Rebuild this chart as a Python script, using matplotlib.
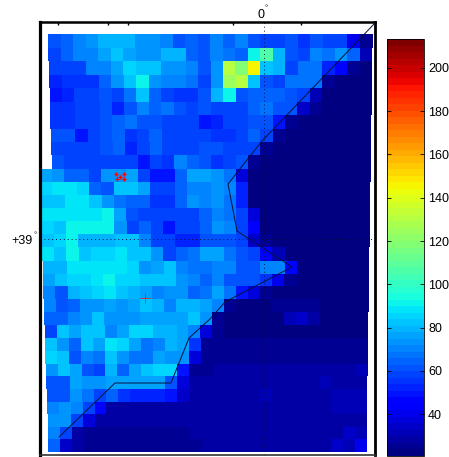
import matplotlib
matplotlib.use("Agg")
import matplotlib.pyplot as plt
import numpy as np

plt.rcParams['font.family'] = ['Liberation Sans', 'DejaVu Sans']

n = np.nan
# one row per latitude band, north to south; first column only exists south of row 9
cells = [
    [n, 62,65,69,72,78,80,80,73,73,69,62,65,62, 69,64,69,62,57,59,61,55,61,57,59,40,24],
    [n, 59,64,70,70,75,83,75,72,72,78,78,65,62, 70,67,64,91,107,78,61,59,69,67,72,65,32],
    [n, 57,59,59,69,70,75,84,81,81,73,73,69,61, 72,130,120,147,83,79,59,67,67,52,46,24,22],
    [n, 52,54,54,54,65,73,83,91,73,69,69,67,59, 73,125,130,83,62,59,67,67,67,24,23,22,22],
    [n, 48,52,57,57,62,57,67,81,65,59,54,54,62, 80,90,62,65,65,64,61,57,32,22,22,22,22],
    [n, 54,54,57,57,61,52,62,70,64,67,62,57,62, 57,57,57,64,67,62,62,35,24,22,22,22,22],
    [n, 54,54,57,57,61,65,67,62,62,57,57,57,49, 52,57,57,61,61,50,24,22,22,22,22,22,22],
    [n, 61,61,48,57,61,64,54,57,64,59,59,59,57, 54,54,57,64,59,24,22,22,22,22,22,22,22],
    [n, 59,59,57,57,61,64,52,57,64,59,59,57,61, 62,59,57,59,26,22,22,22,22,22,22,22,22],
    [n, 62,57,57,57,59,59,57,48,57,54,69,65,61, 54,57,62,24,22,22,22,22,22,22,22,22,22],
    [75, 72,65,65,57,72,72,75,59,50,50,64,75,75, 72,67,36,22,22,22,22,22,22,22,22,22,22],
    [84, 88,88,84,65,62,81,81,75,59,57,65,70,69, 73,69,52,22,22,22,22,22,22,22,22,22,22],
    [83, 83,89,89,81,72,67,64,65,54,54,64,72,69, 72,67,52,22,22,22,22,22,22,22,22,22,22],
    [88, 89,89,89,89,90,77,62,57,59,57,57,57,65, 70,67,57,38,22,22,22,22,22,22,22,22,22],
    [85, 83,90,92,92,90,73,59,65,59,50,57,57,65, 72,69,57,42,22,22,22,22,22,22,22,22,22],
    [81, 85,90,80,80,80,81,81,70,59,57,52,52,62, 62,62,57,35,24,22,22,22,22,22,22,22,22],
    [88, 83,90,83,86,86,89,83,83,72,59,65,67,75, 75,67,61,59,42,32,22,22,22,22,22,22,22],
    [80, 80,88,89,89,89,89,85,72,77,83,70,67,67, 70,70,62,62,69,70,46,22,22,22,22,22,22],
    [77, 83,86,86,88,92,86,86,81,81,81,73,69,65, 69,62,61,61,54,40,26,22,22,22,22,22,22],
    [70, 62,79,81,84,89,83,80,77,70,73,72,65,67, 75,67,50,36,26,22,22,22,22,22,22,22,22],
    [70, 62,64,73,73,77,72,77,83,80,70,80,79,77, 70,26,22,22,22,26,26,24,24,22,22,22,22],
    [65, 65,70,72,81,73,73,73,77,75,75,75,81,72, 24,22,22,22,22,22,30,35,28,23,22,22,22],
    [57, 81,77,83,83,69,77,85,85,79,79,75,69,38, 24,23,23,23,23,23,23,23,23,23,23,23,23],
    [83, 73,64,81,77,88,85,75,67,70,79,75,54,24, 24,24,24,24,24,24,24,24,24,24,24,24,24],
    [85, 83,62,69,67,81,72,67,67,77,72,72,36,25, 25,25,25,25,25,25,25,25,25,25,25,25,25],
    [72, 83,77,61,59,79,65,75,83,86,85,50,25,25, 28,28,28,28,28,28,28,28,28,28,28,28,31],
    [62, 62,77,72,72,75,77,77,77,77,62,36,28,28, 28,28,28,28,28,28,28,28,28,31,28,28,28],
    [62, 61,72,67,57,65,54,52,52,52,48,35,28,28, 28,28,28,28,31,28,28,28,28,28,31,31,31],
    [70, 73,70,59,46,28,28,28,28,28,28,28,28,28, 28,28,28,28,28,28,28,28,28,28,31,31,31],
    [72, 72,57,38,28,28,28,28,28,28,28,28,28,28, 28,28,28,28,28,28,28,28,28,28,28,28,28],
    [69, 59,28,25,25,25,25,25,25,25,25,25,28,28, 28,28,28,28,28,28,28,28,28,28,28,34,31],
    [64, 34,28,25,25,25,25,25,25,25,25,25,25,28, 28,28,28,28,28,28,28,28,28,28,34,31,39],
]

coast_x = [375, 262, 228, 237, 292, 225, 210, 189, 171, 115, 59]
coast_y = [23, 141, 184, 231, 267, 302, 319, 338, 383, 383, 437]
cluster_x = [116.3, 120, 123.7, 117.3, 123.7]
cluster_y = [174.3, 176.7, 174.3, 179.3, 179.3]
site_x = [145]
site_y = [298]
frame_ticks_top = [58, 108, 128, 233, 301]
bar_ticks = [40, 60, 80, 100, 120, 140, 160, 180, 200]

W, H = 449, 457
fig = plt.figure(figsize=(W / 100, H / 100), dpi=100)

ax = fig.add_axes([40 / W, 1 - 455 / H, 335 / W, 433.5 / H])
ax.set_xlim(40, 375)
ax.set_ylim(455, 21.5)

# mesh edges converge slightly southwards, like the map projection
data = np.array(cells)
nrow, ncol = data.shape
rows = np.arange(nrow + 1)
cols = np.arange(ncol + 1)
yedge = 34 + 13.63 * rows - 0.018 * rows ** 2
width = 12.48 - 0.0225 * rows
X = 264 + np.outer(width, cols - 18.3)
Y = np.repeat(yedge[:, None], ncol + 1, axis=1)

cmap = plt.get_cmap('jet', 64)
mesh = ax.pcolormesh(X, Y, data, cmap=cmap, vmin=20.6, vmax=213.4, shading='flat')

ax.plot(coast_x, coast_y, color='#08103a', lw=0.7)
ax.axvline(264, color='#101040', lw=0.7, ls=(0, (1, 3)))
ax.axhline(239, color='#101040', lw=0.7, ls=(0, (1, 3)))
ax.plot(cluster_x, cluster_y, '+', color='red', ms=3.5, mew=0.9, ls='none')
ax.plot(site_x, site_y, '+', color='#e02020', ms=7, mew=0.6, ls='none')

ax.spines['left'].set_linewidth(2.3)
ax.spines['top'].set_linewidth(1.8)
ax.spines['right'].set_linewidth(2.0)
ax.spines['bottom'].set_linewidth(1.2)
ax.spines['bottom'].set_color('#333333')
ax.set_xticks(frame_ticks_top)
ax.set_yticks([])
ax.tick_params(axis='x', direction='in', top=True, bottom=False, labelbottom=False,
               length=2, width=1)

fig.text(261.5 / W, 1 - 14.5 / H, '0', ha='center', va='center', fontsize=9)
fig.text(266 / W, 1 - 9 / H, '°', ha='center', va='center', fontsize=5.5)
fig.text(33 / W, 1 - 241.5 / H, '+39', ha='right', va='center', fontsize=9)
fig.text(35 / W, 1 - 236 / H, '°', ha='center', va='center', fontsize=5.5)

cax = fig.add_axes([387 / W, 1 - 456 / H, 37 / W, 417 / H])
cbar = fig.colorbar(mesh, cax=cax, ticks=bar_ticks)
cbar.ax.tick_params(direction='in', left=True, right=True, length=3, width=0.6,
                    labelsize=9, pad=3)
cbar.outline.set_linewidth(0.6)

fig.savefig('out.png', dpi=100)
